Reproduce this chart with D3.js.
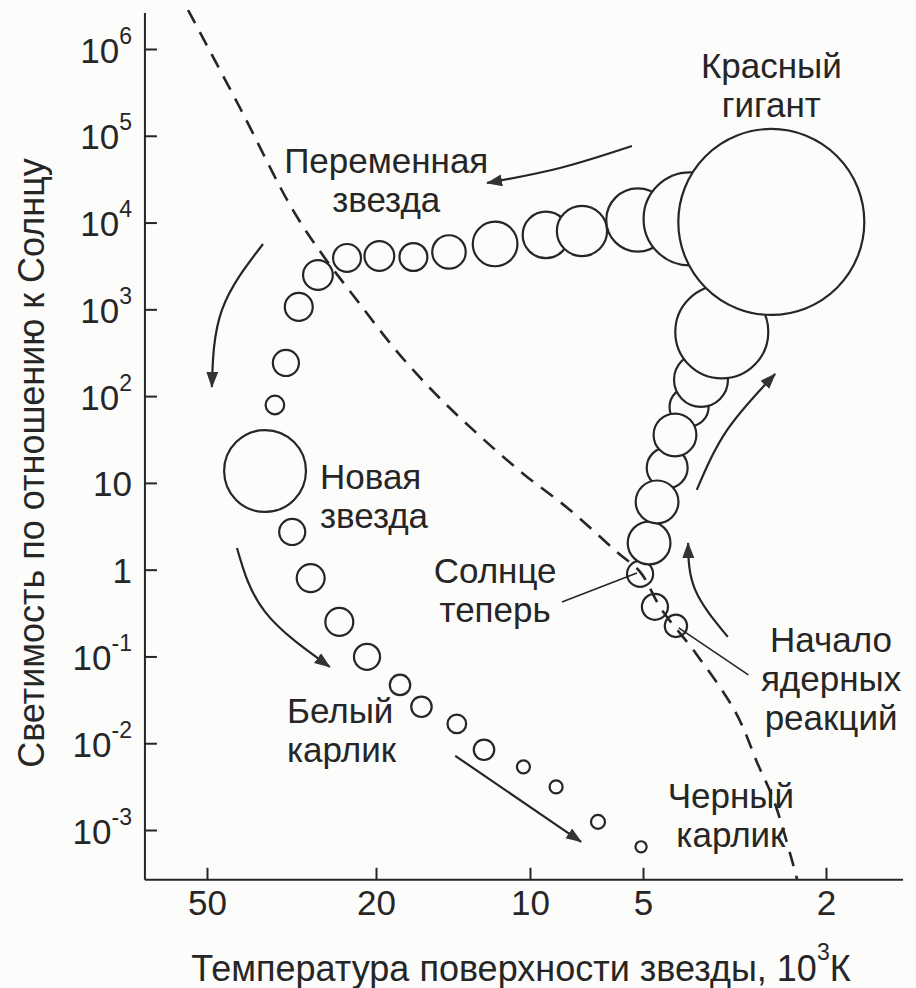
<!DOCTYPE html>
<html><head><meta charset="utf-8">
<script src="https://cdn.jsdelivr.net/npm/d3@7"></script>
<style>
html,body{margin:0;padding:0;background:#fcfcfb;}
svg{display:block;}
text{font-family:"Liberation Sans",Arial,sans-serif;fill:#262626;}
</style></head><body>
<svg id="chart" width="916" height="988"></svg>
<script>
// ---------- data ----------
const xTickValues = [50, 20, 10, 5, 2];
const xTickLabels = ["50", "20", "10", "5", "2"];
const yTickValues = [1e6, 1e5, 1e4, 1e3, 1e2, 10, 1, 0.1, 0.01, 0.001];
const yTickMantissa = ["10", "10", "10", "10", "10", "10", "1", "10", "10", "10"];
const yTickExponent = ["6", "5", "4", "3", "2", "", "", "-1", "-2", "-3"];
const xExtent = [70, 1.36];          // temperature, 10^3 K
const yExtent = [2.6e6, 2.67e-4];    // luminosity, L_sun

// evolutionary track: temperature (10^3 K), luminosity (L_sun), relative star size (giant = 100)
const trackT = [4.24, 4.71, 5.09, 4.85, 4.66, 4.43, 4.26, 3.97, 3.74, 3.37, 2.63, 3.95, 5.16, 7.27, 9.07, 11.7, 14.4, 16.9, 19.7, 23.4, 27.4, 30.4, 32.6, 34.6, 36.5, 31.5, 28.5, 24.4, 21.0, 17.95, 16.3, 13.9, 12.3, 10.3, 8.52, 6.59, 5.06];
const trackL = [0.225, 0.373, 0.894, 2.03, 6.04, 14.9, 35.7, 75, 154, 549, 10160, 11000, 10700, 8000, 7200, 5670, 4580, 4010, 4120, 3910, 2490, 1066, 241, 79, 13.7, 2.72, 0.80, 0.25, 0.099, 0.047, 0.0263, 0.0167, 0.0084, 0.00534, 0.00314, 0.00124, 0.00064];
const trackSize = [12, 14, 14, 23, 23, 22, 23, 21, 29, 50, 100, 50, 34, 27, 25, 24, 18, 15, 16, 15, 16, 15, 14, 10, 44, 14, 15, 15, 14, 11, 11, 10, 11, 7, 7, 7.5, 6];

// dashed main-sequence line
const seqT = [55.4, 41.8, 31.4, 26.4, 22.2, 18.3, 15.3, 12.6, 10.3, 7.83, 5.87, 5.09, 4.55, 3.83, 3.14, 2.81, 2.60, 2.39, 2.31];
const seqL = [2.81e6, 2.09e5, 13970, 3910, 1283, 340, 106, 35.7, 12.7, 4.88, 1.60, 0.943, 0.344, 0.107, 0.0224, 0.00564, 0.00223, 5.18e-4, 2.67e-4];

// arrows (data coordinates: [T, L] ... last point is the arrow tip)
const arrowPaths = [
  [[5.35, 76300], [8.32, 42560], [12.13, 28600]],
  [[36.9, 5667], [46.1, 984], [48.7, 127.6]],
  [[42.5, 1.78], [36.5, 0.326], [25.7, 0.0759]],
  [[14.0, 0.00716], [7.31, 7.31e-4]],
  [[3.82, 8.30], [3.28, 40.8], [2.58, 180]],
  [[3.27, 0.168], [3.85, 0.585], [3.99, 2.03]]
];
// leader lines
const leaderPaths = [
  [[8.22, 0.425], [5.19, 0.918]],
  [[4.18, 0.2135], [2.95, 0.0614]]
];

// labels: lines, T, L of first baseline, anchor
const labelLines = [["Красный", "гигант"], ["Переменная", "звезда"], ["Новая", "звезда"], ["Солнце", "теперь"], ["Начало", "ядерных", "реакций"], ["Белый", "карлик"], ["Черный", "карлик"]];
const labelT = [2.63, 19.1, 27.1, 11.7, 1.95, 32.4, 3.22];
const labelL = [4.64e5, 37270, 8.6, 0.705, 0.1115, 0.01718, 0.0018];
const labelAnchor = ["middle", "middle", "start", "middle", "middle", "start", "middle"];

// ---------- chart ----------
const svg = d3.select("#chart");
const ink = "#262626";
const FONT = "'Liberation Sans',Arial,sans-serif";

// hand-drawn logarithmic temperature axis (piecewise log)
const x = d3.scaleLog().domain(xTickValues).range([207, 376, 530, 643, 826]);
const y = d3.scaleLog().domain([1e6, 1e-3]).range([49, 830]);
const r = d3.scaleLinear().domain([0, 100]).range([0, 93]);

const x0 = x(xExtent[0]), x1 = x(xExtent[1]);
const yTop = y(yExtent[0]), yBot = y(yExtent[1]);

// axes lines
svg.append("line").attr("x1", x0).attr("x2", x0).attr("y1", yTop).attr("y2", yBot)
  .attr("stroke", ink).attr("stroke-width", 2);
svg.append("line").attr("x1", x0).attr("x2", x1).attr("y1", yBot).attr("y2", yBot)
  .attr("stroke", ink).attr("stroke-width", 2);

// y axis ticks (inward) and labels
const yAxis = d3.axisLeft(y).tickValues(yTickValues).tickSize(-12).tickSizeOuter(0).tickFormat(() => "");
const gy = svg.append("g").attr("transform", `translate(${x0},0)`).call(yAxis);
gy.select(".domain").remove();
gy.attr("font-family", null).attr("font-size", null);
gy.selectAll(".tick line").attr("stroke", ink).attr("stroke-width", 2);
gy.selectAll(".tick text").remove();
gy.selectAll(".tick").each(function(d, i) {
  const t = d3.select(this).append("text")
    .attr("x", -13).attr("y", 13).attr("text-anchor", "end")
    .style("font-size", "35px").style("font-family", FONT);
  t.append("tspan").text(yTickMantissa[i]);
  if (yTickExponent[i]) {
    t.append("tspan").attr("dy", -19).style("font-size", "23px").text(yTickExponent[i]);
  }
});

// x axis ticks (inward) and labels
const xAxis = d3.axisBottom(x).tickValues(xTickValues).tickSize(-12).tickSizeOuter(0)
  .tickFormat((d, i) => xTickLabels[i]).tickPadding(22);
const gx = svg.append("g").attr("transform", `translate(0,${yBot})`).call(xAxis);
gx.select(".domain").remove();
gx.attr("font-family", null).attr("font-size", null);
gx.selectAll(".tick line").attr("stroke", ink).attr("stroke-width", 2);
gx.selectAll(".tick text").attr("y", 35).attr("dy", null)
  .style("font-size", "35px").style("font-family", FONT).attr("fill", ink);

// axis titles
svg.append("text")
  .attr("transform", "translate(44,463) rotate(-90)")
  .attr("text-anchor", "middle").style("font-size", "36px")
  .text("Светимость по отношению к Солнцу");
const xt = svg.append("text").attr("x", 521).attr("y", 981).attr("text-anchor", "middle").style("font-size", "36px");
xt.append("tspan").text("Температура поверхности звезды, 10");
xt.append("tspan").attr("dy", -21).style("font-size", "23px").text("3");
xt.append("tspan").attr("dy", 21).text("К");

// star circles (larger drawn on top)
const stars = trackT.map((t, i) => ({ t, l: trackL[i], s: trackSize[i], i }))
  .sort((a, b) => a.s - b.s || a.i - b.i);
svg.append("g").selectAll("circle").data(stars).join("circle")
  .attr("cx", d => x(d.t)).attr("cy", d => y(d.l)).attr("r", d => r(d.s))
  .attr("fill", "#fcfcfb").attr("stroke", ink).attr("stroke-width", 2.2);

// dashed line
const seq = seqT.map((t, i) => [x(t), y(seqL[i])]);
svg.append("path").attr("d", d3.line().curve(d3.curveCatmullRom)(seq))
  .attr("fill", "none").attr("stroke", ink).attr("stroke-width", 2.6)
  .attr("stroke-dasharray", "15,10");

// arrow marker
svg.append("defs").append("marker").attr("id", "ah")
  .attr("markerUnits", "userSpaceOnUse").attr("markerWidth", 18).attr("markerHeight", 14)
  .attr("refX", 15).attr("refY", 6).attr("orient", "auto")
  .append("path").attr("d", "M0,0 L16,6 L0,12 Z").attr("fill", "#333");

const lineGen = d3.line().curve(d3.curveNatural);
svg.append("g").selectAll("path").data(arrowPaths).join("path")
  .attr("d", d => lineGen(d.map(p => [x(p[0]), y(p[1])])))
  .attr("fill", "none").attr("stroke", ink).attr("stroke-width", 2.2)
  .attr("marker-end", "url(#ah)");

svg.append("g").selectAll("path").data(leaderPaths).join("path")
  .attr("d", d => d3.line()(d.map(p => [x(p[0]), y(p[1])])))
  .attr("fill", "none").attr("stroke", ink).attr("stroke-width", 1.6);

// labels
labelLines.forEach((lines, k) => {
  const lx = x(labelT[k]), ly = y(labelL[k]);
  const t = svg.append("text").attr("x", lx).attr("y", ly)
    .attr("text-anchor", labelAnchor[k]).style("font-size", "35px");
  lines.forEach((s, j) => t.append("tspan").attr("x", lx).attr("dy", j ? 39 : 0).text(s));
});
</script>
</body></html>
